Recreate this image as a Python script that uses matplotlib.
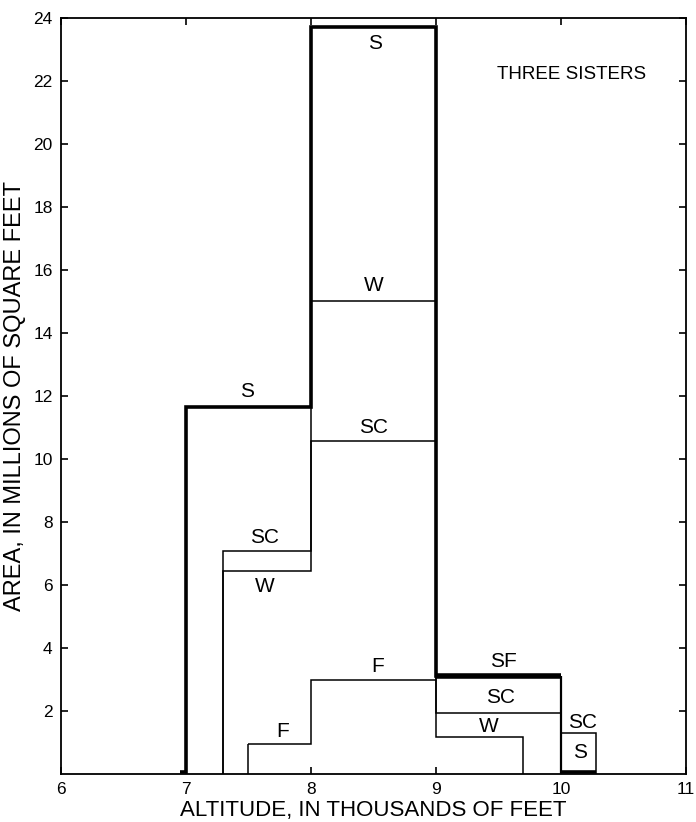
import matplotlib
matplotlib.use("Agg")
import matplotlib.pyplot as plt

plt.rcParams['font.family'] = ['Liberation Sans', 'DejaVu Sans']

# ---- data (altitude in thousands of feet, area in millions of sq ft) ----
s_edges = [6.95, 7.0, 8.0, 9.0, 10.0]
s_vals = [0.05, 11.65, 23.7, 3.1]          # outer S envelope (thick), last step = SF
sf_edges = [9.0, 10.0]
sf_vals = [3.1]
sc_edges = [7.3, 8.0, 9.0, 10.0, 10.28]
sc_vals = [7.07, 10.57, 1.94, 1.3]
w_edges = [7.3, 8.0, 9.0, 9.7]
w_vals = [6.46, 15.0, 1.18]
f_edges = [7.5, 8.0, 9.0]
f_vals = [0.95, 3.0]
s2_edges = [10.0, 10.28]
s2_vals = [0.05]

x_ticks = [6, 7, 8, 9, 10, 11]
y_ticks = [2, 4, 6, 8, 10, 12, 14, 16, 18, 20, 22, 24]

# labels: (text, x, y)
labels = [
    ("S", 7.49, 12.13), ("S", 8.51, 23.2), ("W", 8.5, 15.5), ("SC", 8.5, 11.0),
    ("SC", 7.63, 7.5), ("W", 7.63, 5.95), ("F", 7.77, 1.35), ("F", 8.53, 3.42),
    ("SF", 9.54, 3.58), ("SC", 9.52, 2.42), ("W", 9.42, 1.5),
    ("SC", 10.17, 1.65), ("S", 10.15, 0.67),
]

fig = plt.figure(figsize=(6.96, 8.22), dpi=100)
ax = fig.add_axes([61/696, 1-774/822, (686-61)/696, (774-18)/822])

thin = 1.1
thick = 2.6

ax.stairs(s_vals, s_edges, baseline=None, color='black', lw=thick)
ax.vlines(s_edges[-1], 0, s_vals[-1], color='black', lw=1.6)
ax.stairs(sf_vals, sf_edges, baseline=None, color='black', lw=4.0)
ax.stairs(sc_vals, sc_edges, baseline=0, color='black', lw=thin)
ax.stairs(w_vals, w_edges, baseline=0, color='black', lw=thin)
ax.stairs(f_vals, f_edges, baseline=None, color='black', lw=thin)
ax.vlines(f_edges[0], 0, f_vals[0], color='black', lw=thin)
ax.stairs(s2_vals, s2_edges, baseline=None, color='black', lw=thick)

for t, x, y in labels:
    ax.text(x, y, t, ha='center', va='center', fontsize=15)

ax.text(9.49, 22.2, "THREE SISTERS", ha='left', va='center', fontsize=13.5)

ax.set_xlim(6, 11)
ax.set_ylim(0, 24)
ax.set_xticks(x_ticks)
ax.set_yticks(y_ticks)
ax.tick_params(direction='in', length=5, width=1.2, top=True, right=True,
               labelsize=12.5, pad=6)
for sp in ax.spines.values():
    sp.set_linewidth(1.3)

ax.set_xlabel("ALTITUDE, IN THOUSANDS OF FEET", fontsize=16, labelpad=2)
ax.set_ylabel("AREA, IN MILLIONS OF SQUARE FEET", fontsize=17, labelpad=5)

fig.savefig("out.png", dpi=100)
